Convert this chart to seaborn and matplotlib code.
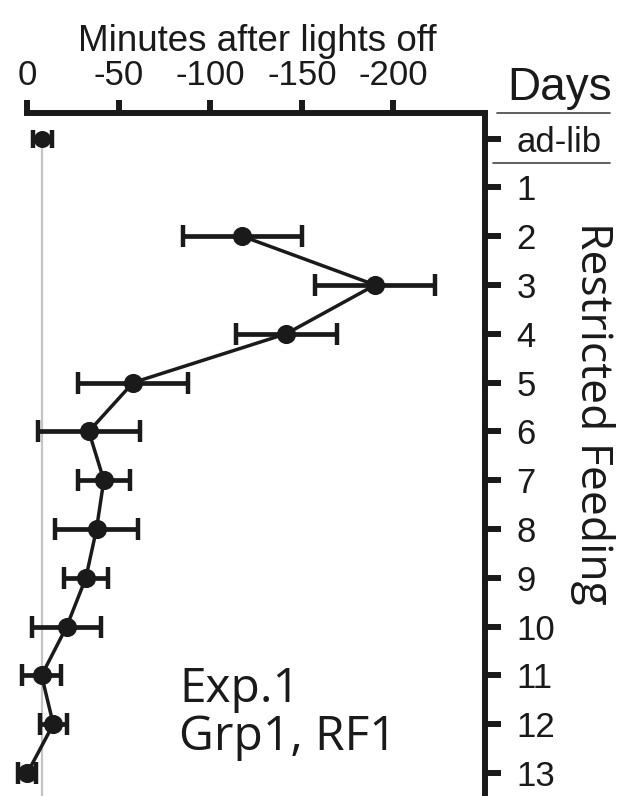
import numpy as np
import pandas as pd
import matplotlib
matplotlib.use("Agg")
import matplotlib.pyplot as plt
import seaborn as sns
from matplotlib.lines import Line2D

# ---- data ----
day_labels = ["ad-lib", "1", "2", "3", "4", "5", "6", "7", "8", "9", "10", "11", "12", "13"]
rf_days = [2, 3, 4, 5, 6, 7, 8, 9, 10, 11, 12, 13]
rf_minutes = [-117.4, -190.0, -141.4, -57.8, -33.6, -41.8, -37.8, -32.0, -21.5, -7.8, -14.2, 0.0]
rf_sem = [32.5, 32.6, 27.5, 30.2, 27.7, 14.1, 22.6, 12.1, 18.9, 10.7, 7.3, 4.9]
adlib_minutes = [-8.3]
adlib_sem = [5.0]
adlib_pos = [0]
x_ticks = [0, -50, -100, -150, -200]
x_tick_labels = ["0", "-50", "-100", "-150", "-200"]

sns.set_style("white")
plt.rcParams['font.family'] = ['Liberation Sans', 'DejaVu Sans']
dark = "#1a1a1a"
W, H = 617, 796

fig = plt.figure(figsize=(W / 100, H / 100), dpi=100)
ax = fig.add_axes([27.3 / W, 0, (485 - 27.3) / W, (796 - 112.7) / H])

df = pd.DataFrame({"minutes": rf_minutes, "day": rf_days, "sem": rf_sem})
ad = pd.DataFrame({"minutes": adlib_minutes, "day": adlib_pos, "sem": adlib_sem})

# grey reference line at ad-lib level
ax.plot([adlib_minutes[0]] * 2, [0, 13.6], color="#c4c4c4", lw=1.6, zorder=0, clip_on=False)

def errbars(d, capsize):
    cont = ax.errorbar(d["minutes"], d["day"], xerr=d["sem"], fmt="none", ecolor=dark,
                       elinewidth=3.4, capsize=capsize, capthick=3.2, zorder=2)
    for a in list(cont.lines[1]) + list(cont.lines[2]):
        a.set_clip_on(False)

errbars(df, 8)
errbars(ad, 6.5)

sns.lineplot(data=df, x="minutes", y="day", sort=False, estimator=None, color=dark,
             lw=2.5, ax=ax, zorder=3)
sns.scatterplot(data=df, x="minutes", y="day", color=dark, s=190, linewidth=0,
                ax=ax, zorder=4, clip_on=False)
sns.scatterplot(data=ad, x="minutes", y="day", color=dark, s=150, linewidth=0,
                ax=ax, zorder=4, clip_on=False)

ax.set_xlim(0, -250)
ax.set_ylim(13.47, -0.53)
ax.set_xlabel("")
ax.set_ylabel("")
ax.xaxis.tick_top()
ax.yaxis.tick_right()
ax.set_xticks(x_ticks)
ax.set_xticklabels(x_tick_labels, fontsize=25)
ax.set_yticks(range(len(day_labels)))
ax.set_yticklabels(day_labels, fontsize=25, ha="left")
ax.tick_params(axis="x", direction="out", length=9.6, width=4.3, pad=5, colors=dark,
               top=True, bottom=False, labeltop=True, labelbottom=False)
ax.tick_params(axis="y", direction="out", length=11.5, width=4.3, pad=11, colors=dark,
               right=True, left=False, labelright=True, labelleft=False)
for s in ["left", "bottom"]:
    ax.spines[s].set_visible(False)
for s in ["top", "right"]:
    ax.spines[s].set_visible(True)
    ax.spines[s].set_linewidth(4.3)
    ax.spines[s].set_color(dark)
    ax.spines[s].set_capstyle("projecting")
ax.grid(False)

# texts
fig.text(257 / W, 1 - 51 / H, "Minutes after lights off", ha="center", va="baseline",
         fontsize=26.5, color=dark)
fig.text(507 / W, 1 - 100 / H, "Days", ha="left", va="baseline", fontsize=33, color=dark)
fig.add_artist(Line2D([497 / W, 610 / W], [1 - 112.7 / H] * 2, color="#444444", lw=1.2))
fig.add_artist(Line2D([493 / W, 610 / W], [1 - 163 / H] * 2, color="#444444", lw=1.2))
fig.text(593 / W, 1 - 413 / H, "Restricted Feeding", rotation=-90, ha="center", va="center",
         fontsize=32, family=["Open Sans", "DejaVu Sans"], color=dark)
fig.text(179 / W, 1 - 701.7 / H, "Exp.1", ha="left", va="baseline", fontsize=34.5,
         family=["Open Sans", "DejaVu Sans"], color=dark)
fig.text(179 / W, 1 - 750 / H, "Grp1, RF1", ha="left", va="baseline", fontsize=34.5,
         family=["Open Sans", "DejaVu Sans"], color=dark)

fig.savefig("out.png", dpi=100)
